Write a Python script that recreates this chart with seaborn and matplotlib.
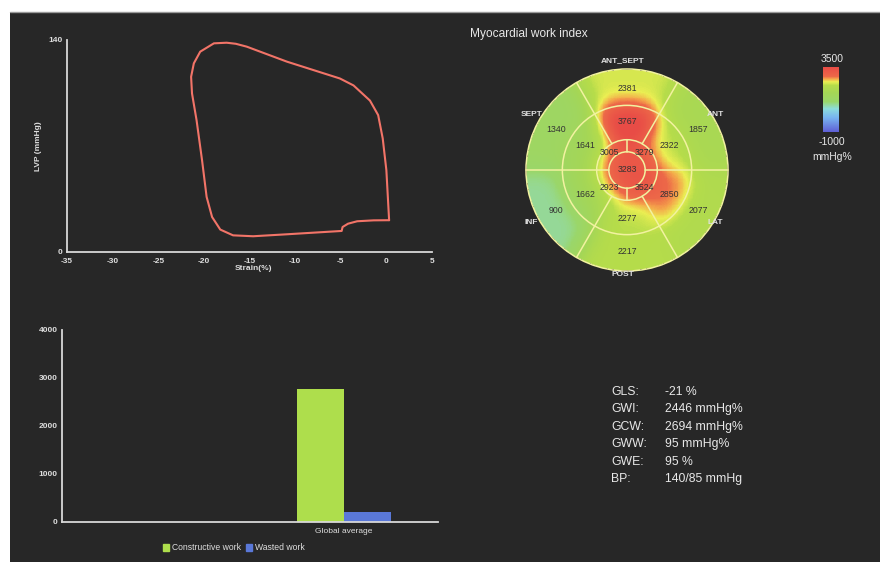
import numpy as np
import pandas as pd
import matplotlib
matplotlib.use("Agg")
import matplotlib.pyplot as plt
import seaborn as sns
from matplotlib.colors import LinearSegmentedColormap, Normalize
from matplotlib.patches import Rectangle, Circle
from matplotlib.lines import Line2D
import matplotlib.cm as cm

# ---- strain / pressure loop ----
strain = [0.3, 0.0, -0.4, -0.9, -1.8, -3.6, -5.1, -10.9, -15.3, -16.5, -17.5, -18.9,
          -20.4, -21.1, -21.4, -21.3, -20.8, -20.2, -19.7, -19.1, -18.2, -16.8, -14.6,
          -10.9, -4.9, -4.8, -4.2, -3.2, -1.4, 0.3]
lvp = [21.0, 54.0, 75.0, 90.4, 100.0, 110.0, 114.6, 125.7, 135.6, 137.5, 138.2, 137.8,
       132.3, 124.6, 115.7, 104.7, 87.0, 60.6, 36.4, 23.1, 14.8, 11.0, 10.4,
       11.7, 13.9, 16.5, 18.7, 20.3, 20.9, 21.0]

# ---- bull's eye (17 segments), sectors counter-clockwise from 3 o'clock ----
basal_vals = [1857, 2381, 1340, 900, 2217, 2077]     # ANT, ANT_SEPT, SEPT, INF, POST, LAT
mid_vals = [2322, 3767, 1641, 1662, 2277, 2850]
apical_vals = [3279, 3005, 2923, 3524]
apex_val = 3283
wall_names = ["ANT_SEPT", "SEPT", "ANT", "INF", "LAT", "POST"]

# ---- global work bars ----
work_names = ["Constructive work", "Wasted work"]
work_vals = [2770, 210]
bar_cats = [" ", "Global average"]

stat_names = ["GLS:", "GWI:", "GCW:", "GWW:", "GWE:", "BP:"]
stat_vals = ["-21 %", "2446 mmHg%", "2694 mmHg%", "95 mmHg%", "95 %", "140/85 mmHg"]

BG = "#272727"
FG = "#dedede"
W, H = 880, 562

sns.set_theme(style="dark", rc={
    "axes.facecolor": "none", "figure.facecolor": "white",
    "axes.edgecolor": "#d0d0d0", "text.color": FG,
    "xtick.color": FG, "ytick.color": FG, "axes.grid": False,
    "axes.unicode_minus": False,
})
plt.rcParams["font.family"] = ["Liberation Sans", "DejaVu Sans"]


def fx(px):
    return px / W


def fy(py):
    return 1 - py / H


fig = plt.figure(figsize=(8.8, 5.62), dpi=100)
fig.patches.append(Rectangle((fx(10), 0), 1 - fx(10), fy(12), transform=fig.transFigure,
                             facecolor=BG, edgecolor="none", zorder=-10))
fig.add_artist(Line2D([fx(10), 1], [fy(12), fy(12)], color="#9a9a9a", lw=1))

# loop plot
ax = fig.add_axes([fx(67), fy(252), fx(432) - fx(67), fy(40) - fy(252)])
sns.lineplot(x=strain, y=lvp, sort=False, estimator=None, color="#f27468", lw=1.5, ax=ax)
ax.set_xlim(-35, 5)
ax.set_ylim(0, 140)
ax.set_xticks(range(-35, 6, 5))
ax.set_yticks([0, 140])
for s in ["top", "right"]:
    ax.spines[s].set_visible(False)
for s in ["left", "bottom"]:
    ax.spines[s].set_color("#d8d8d8")
    ax.spines[s].set_linewidth(1.3)
ax.tick_params(axis="x", direction="inout", length=4, width=1, color="#d8d8d8",
               labelsize=6, pad=2)
ax.tick_params(axis="y", direction="out", length=2, width=1, color="#d8d8d8",
               labelsize=6, pad=1)
for lab in ax.get_xticklabels() + ax.get_yticklabels():
    lab.set_fontweight("bold")
fig.text(fx(253), fy(268), "Strain(%)", ha="center", va="center", fontsize=6,
         fontweight="bold", color=FG)
fig.text(fx(38), fy(146), "LVP (mmHg)", ha="center", va="center", rotation=90,
         fontsize=6, fontweight="bold", color=FG)

# bull's eye
cmap = LinearSegmentedColormap.from_list("mw", [
    (0.0, "#5f5fd6"), (0.222, "#78b4f0"), (0.356, "#8cdcdc"), (0.467, "#9ad66a"),
    (0.6, "#a4d656"), (0.722, "#b6dc4a"), (0.773, "#eaee52"), (0.818, "#f4a44a"),
    (0.856, "#ec6848"), (1.0, "#e84c46")])
norm = Normalize(-1000, 3500)

N = 240
lin = np.linspace(-1, 1, N)
X, Y = np.meshgrid(lin, lin[::-1])
R = np.hypot(X, Y)
T = np.degrees(np.arctan2(Y, X)) % 360
seg = np.where(R > 0.64, np.array(basal_vals)[(T // 60).astype(int)],
      np.where(R > 0.30, np.array(mid_vals)[(T // 60).astype(int)],
      np.where(R > 0.18, np.array(apical_vals)[(T // 90).astype(int)], apex_val)))


def soften(a, sigma):
    # display smoothing of the segment colours, like the scanner's rendering
    half = int(3 * sigma)
    k = np.exp(-0.5 * (np.arange(-half, half + 1) / sigma) ** 2)
    k /= k.sum()
    p = np.pad(a.astype(float), half, mode="edge")
    p = np.apply_along_axis(lambda v: np.convolve(v, k, mode="valid"), 1, p)
    p = np.apply_along_axis(lambda v: np.convolve(v, k, mode="valid"), 0, p)
    return p


field = soften(seg, 13)
cx, cy, rad = 627, 170, 101
bax = fig.add_axes([fx(cx - rad), fy(cy + rad), fx(2 * rad), fy(cy - rad) - fy(cy + rad)])
sns.heatmap(pd.DataFrame(field), mask=R > 1.0, cmap=cmap, vmin=-1000, vmax=3500,
            cbar=False, xticklabels=False, yticklabels=False, linewidths=0, ax=bax)
bax.axis("off")


def uv(r, deg):
    t = np.radians(deg)
    return N / 2 * (1 + r * np.cos(t)), N / 2 * (1 - r * np.sin(t))


lc = "#f2f2a0"
for r in [0.18, 0.30, 0.64, 1.0]:
    bax.add_patch(Circle((N / 2, N / 2), r * N / 2, fill=False, ec=lc, lw=1.1,
                         clip_on=False))
for deg in range(0, 360, 60):
    (u1, v1), (u2, v2) = uv(0.30, deg), uv(1.0, deg)
    bax.plot([u1, u2], [v1, v2], color=lc, lw=1.1, clip_on=False)
for deg in range(0, 360, 90):
    (u1, v1), (u2, v2) = uv(0.18, deg), uv(0.30, deg)
    bax.plot([u1, u2], [v1, v2], color=lc, lw=1.1)

num_kw = dict(ha="center", va="center", fontsize=6.3, color="#333333")
for i, v in enumerate(basal_vals):
    bax.text(*uv(0.81, 30 + 60 * i), str(v), **num_kw)
for i, v in enumerate(mid_vals):
    bax.text(*uv(0.48, 30 + 60 * i), str(v), **num_kw)
for i, v in enumerate(apical_vals):
    bax.text(*uv(0.245, 45 + 90 * i), str(v), **num_kw)
bax.text(N / 2, N / 2, str(apex_val), **num_kw)

wall_pos = [(623, 61, "center"), (542, 115, "right"), (707, 115, "left"),
            (538, 222, "right"), (707, 222, "left"), (623, 275, "center")]
for name, (px, py, ha) in zip(wall_names, wall_pos):
    fig.text(fx(px), fy(py), name, ha=ha, va="center", fontsize=6,
             fontweight="bold", color="#e0e0e0")
fig.text(fx(470), fy(34), "Myocardial work index", ha="left", va="center",
         fontsize=8.6, color="#e8e8e8")

# colour scale
cax = fig.add_axes([fx(823), fy(132), fx(16), fy(67) - fy(132)])
cb = fig.colorbar(cm.ScalarMappable(norm=norm, cmap=cmap), cax=cax)
cb.outline.set_visible(False)
cb.set_ticks([])
fig.text(fx(832), fy(59), "3500", ha="center", va="center", fontsize=7.5, color="#e8e8e8")
fig.text(fx(832), fy(142), "-1000", ha="center", va="center", fontsize=7.5, color="#e8e8e8")
fig.text(fx(832), fy(157), "mmHg%", ha="center", va="center", fontsize=7.5, color="#e8e8e8")

# bar chart
df = pd.DataFrame({"segment": ["Global average"] * 2, "work": work_names, "value": work_vals})
pal = {"Constructive work": "#aede4c", "Wasted work": "#5a78d8"}
bx = fig.add_axes([fx(62), fy(522), fx(438) - fx(62), fy(330) - fy(522)])
sns.barplot(data=df, x="segment", y="value", hue="work", order=bar_cats,
            hue_order=work_names, palette=pal, width=0.5, saturation=1,
            legend=False, edgecolor="none", linewidth=0, ax=bx)
bx.set_xlim(-0.5, 1.5)
bx.set_ylim(0, 4000)
bx.set_yticks(range(0, 4001, 1000))
bx.set_xticks([1])
bx.set_xticklabels(["Global average"])
bx.set_xticks([0.5], minor=True)
bx.set_xlabel("")
bx.set_ylabel("")
for s in ["top", "right"]:
    bx.spines[s].set_visible(False)
for s in ["left", "bottom"]:
    bx.spines[s].set_color("#d8d8d8")
    bx.spines[s].set_linewidth(1.3)
bx.tick_params(axis="x", which="major", length=0, labelsize=6, pad=4)
bx.tick_params(axis="x", which="minor", length=2, width=1, color="#d8d8d8")
bx.tick_params(axis="y", direction="out", length=2, width=1, color="#d8d8d8",
               labelsize=6, pad=1)
for lab in bx.get_yticklabels():
    lab.set_fontweight("bold")

handles = [Rectangle((0, 0), 1, 1, color=pal[n]) for n in work_names]
fig.legend(handles, work_names, loc="center", bbox_to_anchor=(fx(234), fy(548)),
           ncol=2, frameon=False, fontsize=6.2, handlelength=0.7, handleheight=0.7,
           columnspacing=0.6, handletextpad=0.3, labelcolor=FG)

# global indices
for i, (n, v) in enumerate(zip(stat_names, stat_vals)):
    y = 392 + i * 17.4
    fig.text(fx(611), fy(y), n, ha="left", va="center", fontsize=8.8, color="#e8e8e8")
    fig.text(fx(665), fy(y), v, ha="left", va="center", fontsize=8.8, color="#e8e8e8")

fig.savefig("out.png", dpi=100)
